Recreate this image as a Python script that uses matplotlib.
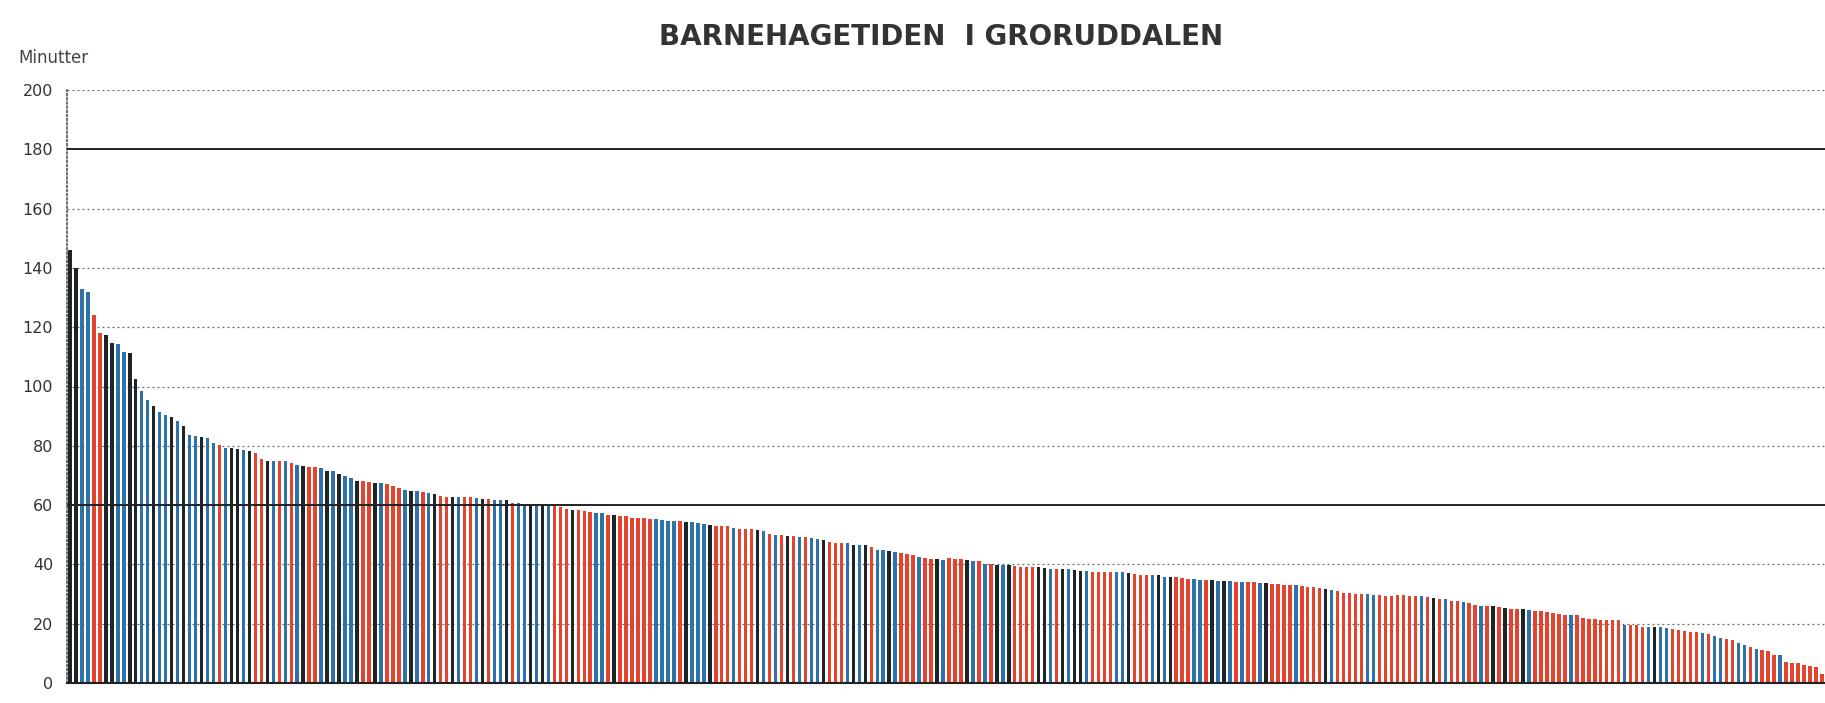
import matplotlib
matplotlib.use("Agg")
import matplotlib.pyplot as plt
import numpy as np

# Barnehagetid (minutter) per barnehage, sortert synkende, lest av fra figuren
minutter_del1 = [146, 140, 133, 132, 124, 118, 117.4, 114.6, 114.2, 111.6,
                 111.2, 102.4, 98.6, 95.5, 93.3, 91.5, 90.4, 89.7, 88.2, 86.8,
                 83.5, 83.4, 83, 82.5, 81, 80.3, 79.2, 79.2, 78.9, 78.6,
                 78.2, 77.6, 75.6, 75, 74.8, 74.9, 74.8, 74.3, 73.5, 73.3,
                 73, 72.9, 72.5, 71.6, 71.4, 70.6, 69.7, 69, 68.2, 68.2,
                 67.9, 67.5, 67.3, 67.2, 66.3, 65.7, 65.2, 64.9, 64.7, 64.4,
                 64.1, 63.9, 63, 62.9, 62.9, 62.9, 62.9, 62.6, 62.3, 62.1,
                 61.9, 61.6]
minutter_del2 = [61.6, 61.6, 60.7, 60.7, 60.5, 60.2, 60, 60, 59.9, 59.7,
                 59.3, 58.8, 58.3, 58.3, 58, 57.8, 57.5, 57.5, 56.7, 56.5,
                 56.3, 56.2, 55.8, 55.7, 55.5, 55.4, 55.2, 55, 54.6, 54.6,
                 54.5, 54.3, 54.3, 54, 53.5, 53.3, 53, 53, 52.8, 52.4,
                 52.1, 52.1, 52.1, 51.5, 51.3, 50.2, 50, 50, 49.6, 49.5,
                 49.4, 49.1, 48.9, 48.5, 48.2, 47.6, 47.3, 47.1, 47.1, 46.7,
                 46.5, 46.4, 46, 44.8, 44.7, 44.4, 44.2, 44, 43.4, 43.3,
                 42.6, 42, 41.8, 41.7, 41.5]
minutter_del3 = [42.2, 41.8, 41.8, 41.4, 41.3, 41, 40.3, 40.2, 39.9, 39.8,
                 39.7, 39.4, 39.2, 39.2, 39.1, 39.1, 38.8, 38.6, 38.6, 38.5,
                 38.3, 38, 37.8, 37.8, 37.6, 37.5, 37.5, 37.5, 37.3, 37.3,
                 37.1, 36.7, 36.5, 36.4, 36.3, 36.3, 35.9, 35.7, 35.6, 35.5,
                 35.2, 35.2, 34.9, 34.7, 34.6, 34.5, 34.3, 34.3, 34.1, 34.1,
                 34, 34, 33.8, 33.6, 33.5, 33.3, 33.1, 33, 32.9, 32.6,
                 32.5, 32.3, 32.1, 31.8, 31.4, 30.9, 30.5, 30.3, 30.1, 30.1,
                 30, 29.8, 29.6, 29.5, 29.5]
minutter_del4 = [29.8, 29.6, 29.5, 29.2, 29.2, 29, 28.7, 28.4, 28.2, 27.8,
                 27.6, 27.2, 27, 26.4, 26.1, 25.9, 25.9, 25.7, 25.3, 25,
                 24.8, 24.8, 24.5, 24.2, 24.2, 23.9, 23.7, 23.4, 23.1, 23.1,
                 22.8, 22, 21.6, 21.6, 21.4, 21.2, 21.2, 21.1, 19.7, 19.5,
                 19.4, 19, 19, 18.9, 18.8, 18.5, 18.2, 17.9, 17.5, 17.3,
                 17.2, 16.7, 16.4, 15.9, 15.3, 14.8, 14.5, 13.6, 12.9, 12.2,
                 11.5, 11.2, 10.7, 9.5, 9.5, 7.1, 6.9, 6.8, 6.2, 5.8,
                 5.5, 3]

# fargekoder per søyle: k = svart, b = blå, r = rød
farger_del1 = ("kkbbrrkkbb" "kkbbkbbkbk" "bbkbbrbkkb" "krrkbrbrbk"
               "rrbkbkbbkr" "rkbrrrbkbr" "bkrrkbrrbk" "rb")
farger_del2 = ("bkrbbkbkbr" "rrkrrrbbrk" "rrrrrrbbbb" "rkbbbkrrrb"
               "rrrkbrbrkr" "brbbkrrrbk" "bkrbbkbrrr" "brrkb")
farger_del3 = ("rrrkbrbrkb" "krrrrkkbrk" "bkkbrrrrbb" "krrrbkbkrr"
               "rbbrkbkbrb" "rrbkrrrrbr" "rrrkbrrrrr" "bbrrr")
farger_del4 = ("rrrrbrkrbr" "rbrrbrkrkr" "rkbrrrrrrb" "rrrrrrrrbr"
               "rrbkbbrrrr" "rbrbbrrbbr" "brrrbrrrrr" "rr")

y_ticks = [0, 20, 40, 60, 80, 100, 120, 140, 160, 180, 200]
fargekart = {"k": "#1e2428", "b": "#2d72ab", "r": "#e4432d"}

minutter = minutter_del1 + minutter_del2 + minutter_del3 + minutter_del4
farger = farger_del1 + farger_del2 + farger_del3 + farger_del4
n = min(len(minutter), len(farger))
minutter = minutter[:n]
bar_colors = [fargekart[c] for c in farger[:n]]

fig = plt.figure(figsize=(18.25, 7.03), dpi=100)
ax = fig.add_axes([67 / 1825, 20 / 703, 1 - 67 / 1825, (683 - 90) / 703])

x = np.arange(n)
ax.bar(x, minutter, width=0.58, color=bar_colors, zorder=2, linewidth=0)

# prikkede hjelpelinjer, heltrukne ved 60 og 180
for yv in y_ticks[1:]:
    if yv in (60, 180):
        ax.axhline(yv, color="#222222", linewidth=1.4, zorder=3)
    else:
        ax.axhline(yv, color="#666666", linewidth=0.9,
                   linestyle=(0, (1.5, 2.5)), zorder=1)

ax.set_xlim(-0.5, n - 0.5)
ax.set_ylim(0, 200)
ax.set_yticks(y_ticks)
ax.set_xticks([])
ax.tick_params(axis="y", length=0, pad=10, labelsize=11.5, labelcolor="#333333")

ax.spines["top"].set_visible(False)
ax.spines["right"].set_visible(False)
ax.spines["left"].set_linestyle((0, (1, 1.5)))
ax.spines["left"].set_color("#555555")
ax.spines["left"].set_linewidth(1.2)
ax.spines["bottom"].set_color("#222222")
ax.spines["bottom"].set_linewidth(1.5)
ax.spines["bottom"].set_zorder(4)

fig.text(18 / 1825, 1 - 58 / 703, "Minutter", fontsize=12, color="#444444",
         ha="left", va="center")
fig.text(941 / 1825, 1 - 37 / 703, "BARNEHAGETIDEN  I GRORUDDALEN",
         fontsize=20, fontweight="bold", color="#333333",
         ha="center", va="center")

fig.savefig("out.png", dpi=100)
